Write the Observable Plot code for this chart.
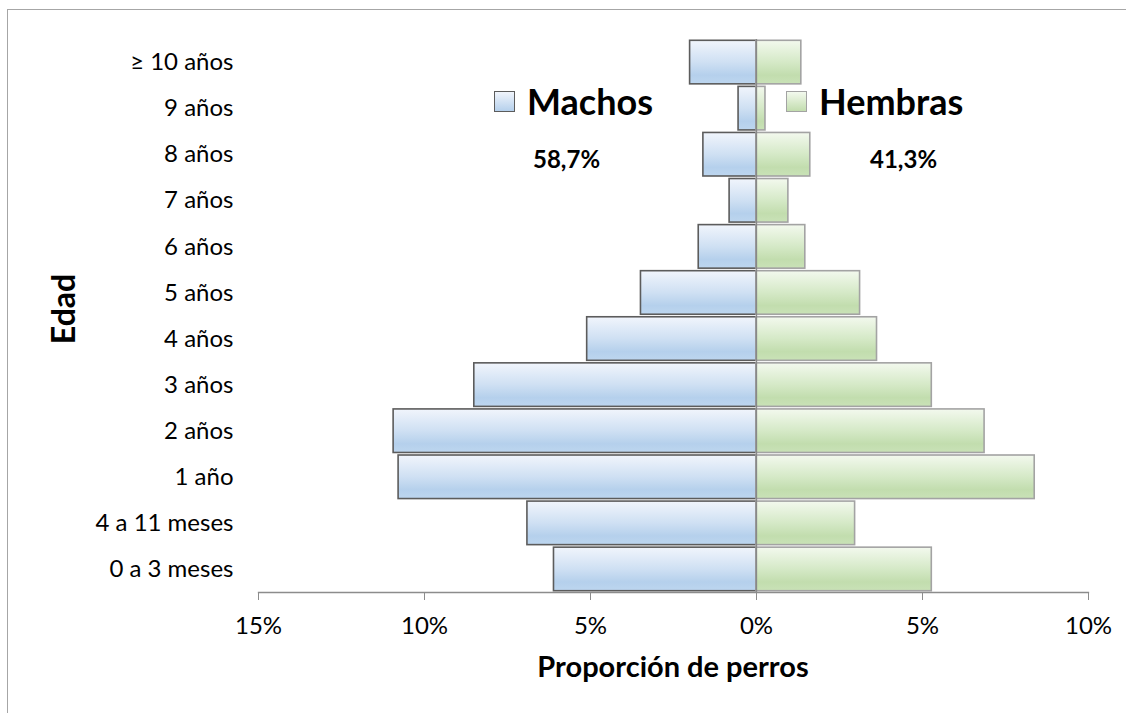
<!DOCTYPE html>
<html>
<head>
<meta charset="utf-8">
<script src="https://cdn.jsdelivr.net/npm/d3@7"></script>
<script src="https://cdn.jsdelivr.net/npm/@observablehq/plot@0.6"></script>
<style>
  html, body { margin: 0; padding: 0; background: #fff; }
  #wrap { position: relative; width: 1126px; height: 713px; overflow: hidden; font-family: Lato, "Noto Sans", sans-serif; color: #000; }
  #frameL { position: absolute; left: 7px; top: 9px; width: 1px; height: 704px; background: #a6a6a6; }
  #frameT { position: absolute; left: 7px; top: 9px; width: 1119px; height: 1px; background: #a6a6a6; }
  .ov { position: absolute; white-space: nowrap; }
  .sw { display: inline-block; box-sizing: border-box; width: 21px; height: 21px; margin-right: 12px; }
  .leg { font-weight: bold; font-size: 36px; line-height: 1; display: flex; align-items: center; }
  .pct { font-weight: bold; font-size: 24px; }
  #chart svg { display: block; }
</style>
</head>
<body>
<div id="wrap">
  <div id="chart"></div>
  <div id="frameL"></div>
  <div id="frameT"></div>
</div>
<script>
// ---- data ----
const categories = ["≥ 10 años", "9 años", "8 años", "7 años", "6 años", "5 años", "4 años", "3 años", "2 años", "1 año", "4 a 11 meses", "0 a 3 meses"];
const machos  = [2.0, 0.54, 1.6, 0.81, 1.74, 3.48, 5.1, 8.5, 10.93, 10.78, 6.9, 6.1];
const hembras = [1.35, 0.27, 1.62, 0.96, 1.47, 3.12, 3.63, 5.28, 6.87, 8.38, 2.97, 5.28];
const seriesNames = ["Machos", "Hembras"];
const totals = ["58,7%", "41,3%"];
const xTicks = [-15, -10, -5, 0, 5, 10];
const xTitle = "Proporción de perros";
const yTitle = "Edad";

const maleRows = categories.map((c, i) => ({edad: c, v: -machos[i]}));
const femaleRows = categories.map((c, i) => ({edad: c, v: hembras[i]}));

const plot = Plot.plot({
  width: 1126,
  height: 713,
  marginLeft: 258,
  marginRight: 38,
  marginTop: 39,
  marginBottom: 121,
  style: {fontFamily: "Lato, 'Noto Sans', sans-serif", background: "transparent"},
  x: {domain: [-15, 10]},
  y: {domain: categories, paddingInner: 0.055, paddingOuter: 0.028, round: false},
  marks: [
    Plot.barX(maleRows, {x: "v", y: "edad", fill: "url(#gradM)", stroke: "#5c5c5c", strokeWidth: 1.6}),
    Plot.barX(femaleRows, {x: "v", y: "edad", fill: "url(#gradF)", stroke: "#a3a3a3", strokeWidth: 1.6}),
    Plot.ruleX([0], {stroke: "#888888", strokeWidth: 1.3}),
    Plot.frame({anchor: "bottom", stroke: "#8c8c8c", strokeWidth: 1.3}),
    Plot.axisX({ticks: xTicks, tickSize: 8, tickPadding: 16, stroke: "#8c8c8c", fontSize: 24, fill: "#000",
                tickFormat: d => Math.abs(d) + "%", label: null}),
    Plot.axisY({tickSize: 0, tickPadding: 25, fontSize: 24, fill: "#000", label: null})
  ]
});

// gradients
const svg = d3.select(plot);
const defs = svg.insert("defs", ":first-child");
function grad(id, stops) {
  const g = defs.append("linearGradient").attr("id", id).attr("x1", 0).attr("y1", 0).attr("x2", 0).attr("y2", 1);
  stops.forEach(([o, c]) => g.append("stop").attr("offset", o).attr("stop-color", c));
}
grad("gradM", [[0, "#f1f5fc"], [0.5, "#cfe0f3"], [0.8, "#b5d0ec"], [1, "#bdd6ef"]]);
grad("gradF", [[0, "#f3f9ee"], [0.5, "#d5e9c7"], [0.8, "#c2ddae"], [1, "#c9e2b7"]]);

document.getElementById("chart").appendChild(plot);

// overlays: legend, totals, axis titles
const wrap = document.getElementById("wrap");
function add(html, css, cls) {
  const d = document.createElement("div");
  d.className = "ov " + (cls || "");
  d.innerHTML = html;
  Object.assign(d.style, css);
  wrap.appendChild(d);
  return d;
}
add(`<span class="sw" style="background:linear-gradient(#f1f5fc,#b5d0ec);border:1.5px solid #5c5c5c"></span>${seriesNames[0]}`,
    {left: "494px", top: "83px"}, "leg");
add(`<span class="sw" style="background:linear-gradient(#f3f9ee,#c2ddae);border:1.5px solid #a3a3a3"></span>${seriesNames[1]}`,
    {left: "786px", top: "83px"}, "leg");
add(totals[0], {left: "533px", top: "144px"}, "pct");
add(totals[1], {left: "870px", top: "144px"}, "pct");
add(xTitle, {left: "673px", top: "648px", transform: "translateX(-50%)", fontWeight: "bold", fontSize: "29px"});
add(yTitle, {left: "62px", top: "309px", transform: "translate(-50%,-50%) rotate(-90deg)", fontWeight: "bold", fontSize: "32px"});
</script>
</body>
</html>
